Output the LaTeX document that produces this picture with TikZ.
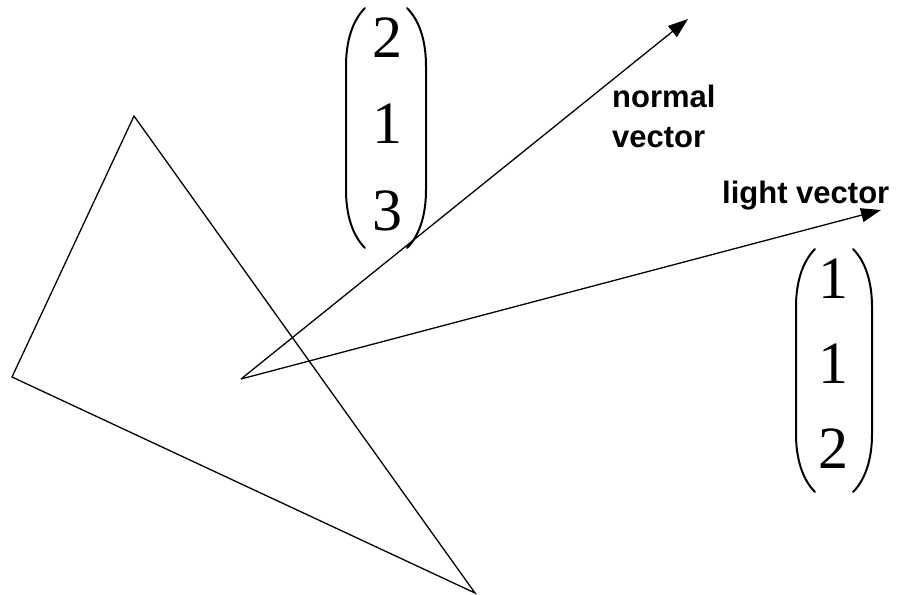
\documentclass[tikz,border=0pt]{standalone}
\usepackage{fontspec}
\setmainfont{Liberation Serif}
\newfontfamily\labfont{Liberation Sans}
\usetikzlibrary{arrows.meta}
\tikzset{
  edge/.style={line width=1.3pt, line join=miter},
  vec/.style={line width=1.3pt, -{Triangle[length=20pt,width=14pt]}},
  lab/.style={inner sep=0pt, anchor=base west, font=\labfont\bfseries\fontsize{31}{36}\selectfont},
  digit/.style={inner sep=0pt, anchor=base, font=\fontsize{60}{64}\selectfont},
  paren/.style={line width=2pt, line cap=round}
}
\begin{document}
\begin{tikzpicture}[x=1pt,y=-1pt]
\useasboundingbox (0,0) rectangle (904,594);
% triangle
\coordinate (tA) at (134,116);
\coordinate (tB) at (12,377);
\coordinate (tC) at (475,593);
\draw[edge] (tA) -- (tB) -- (tC) -- cycle;
% vectors
\coordinate (o) at (241,379);
\coordinate (ntip) at (688,19);
\coordinate (ltip) at (881,210);
\draw[vec] (o) -- (ntip);
\draw[vec] (o) -- (ltip);
% labels
\node[lab] (normal) at (612,107) {normal};
\node[lab] (vector) at (612,147) {vector};
\node[lab] (light) at (722,203) {light vector};
% matrix 1
\node[digit] (m11) at (387,58) {2};
\node[digit] (m12) at (387,143) {1};
\node[digit] (m13) at (387,230) {3};
\draw[paren] (365,8) .. controls (353,20) and (346,40) .. (346,66) -- (346,190) .. controls (346,216) and (353,236) .. (365,248);
\draw[paren] (407,8) .. controls (419,20) and (426,40) .. (426,66) -- (426,190) .. controls (426,216) and (419,236) .. (407,248);
% matrix 2
\node[digit] (m21) at (833,298) {1};
\node[digit] (m22) at (833,383) {1};
\node[digit] (m23) at (833,468) {2};
\draw[paren] (815,249) .. controls (803,261) and (796,281) .. (796,307) -- (796,434) .. controls (796,460) and (803,480) .. (815,492);
\draw[paren] (853,249) .. controls (865,261) and (872,281) .. (872,307) -- (872,434) .. controls (872,460) and (865,480) .. (853,492);
\end{tikzpicture}
\end{document}
